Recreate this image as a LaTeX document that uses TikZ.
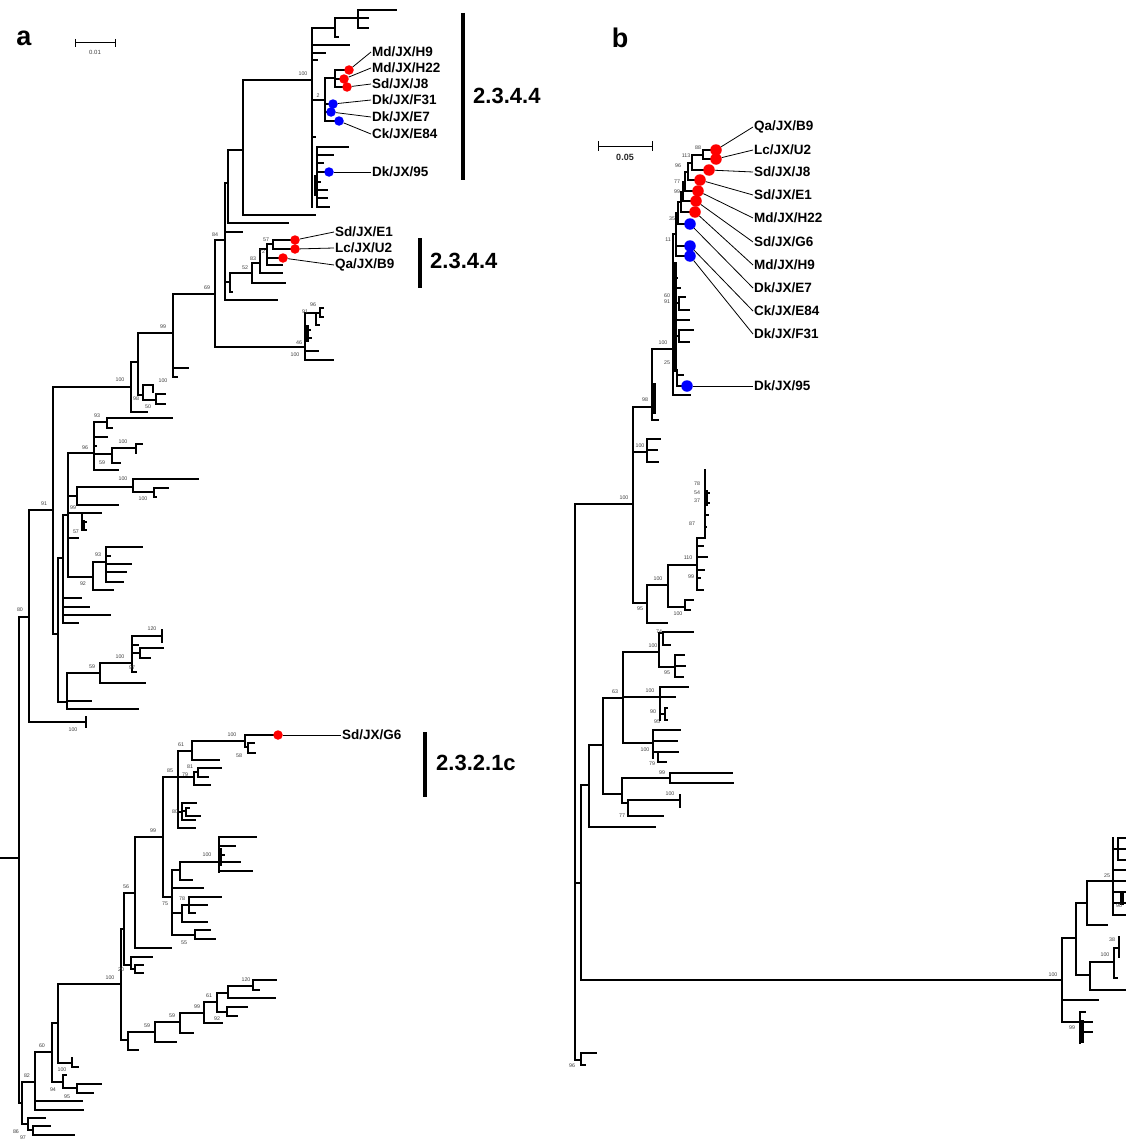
\documentclass[tikz,border=0pt]{standalone}
\usepackage{fontspec}
\setmainfont{Liberation Sans}
\setsansfont{Liberation Sans}
\newcount\bscnt
\newcommand\HB[3]{\draw[br] (#1,#2) -- (#3,#2);}
\newcommand\VB[3]{\draw[br] (#1,#2) -- (#1,#3);}
\newcommand\BS[3]{\global\advance\bscnt by 1\relax\node[bsl] (bs\the\bscnt) at (#1,#2) {#3};}
\begin{document}
\begin{tikzpicture}[x=1pt,y=-1pt,
  br/.style={line width=1.7pt,line cap=rect},
  bsl/.style={font=\fontsize{5.3}{5.3}\selectfont\sffamily,inner sep=0pt,text=black!75},
  lab/.style={font=\fontsize{13.5}{14}\selectfont\sffamily\bfseries,inner sep=1pt,anchor=west},
  clade/.style={font=\fontsize{22}{24}\selectfont\sffamily\bfseries,inner sep=0pt,anchor=west},
  panel/.style={font=\fontsize{27}{28}\selectfont\sffamily\bfseries,inner sep=0pt},
  cbar/.style={line width=4pt},
  lead/.style={line width=0.8pt},
  rdota/.style={circle,fill=red,inner sep=0pt,minimum size=9.5pt},
  bdota/.style={circle,fill=blue,inner sep=0pt,minimum size=9.5pt},
  rdotb/.style={circle,fill=red,inner sep=0pt,minimum size=11.5pt},
  bdotb/.style={circle,fill=blue,inner sep=0pt,minimum size=11.5pt},
  sbar/.style={line width=1pt}]
\useasboundingbox (0,0) rectangle (1126,1140);
\clip (0,0) rectangle (1126,1140);
\fill[white] (0,0) rectangle (1126,1140);

% ================= panel a =================
\node[panel] (pa) at (24,38) {a};
\coordinate (sa1) at (75,43); \coordinate (sa2) at (115,43);
\draw[sbar] (sa1) -- (sa2); \draw[sbar] (75,39) -- (75,47); \draw[sbar] (115,39) -- (115,47);
\node[bsl,font=\fontsize{6}{6}\selectfont\sffamily] (sal) at (95,52) {0.01};

\begin{scope}[br/.style={line width=1.8pt,line cap=rect}]
% root
\HB{0}{858}{19}
\VB{19}{617}{1103}
\HB{19}{617}{29} \BS{20}{610}{80}
\VB{29}{510}{722}
\HB{29}{722}{86} \VB{86}{717}{727} \BS{73}{730}{100}
\HB{29}{510}{53} \BS{44}{504}{91}
\VB{53}{387}{634}
\HB{53}{387}{131} \BS{120}{380}{100}
\VB{131}{362}{412}
\HB{131}{412}{147}
\HB{131}{362}{138}
\VB{138}{333}{395}
\HB{138}{395}{143}
\VB{143}{385}{400}
\HB{143}{385}{153} \VB{153}{385}{392}
\HB{143}{400}{156} \VB{156}{394}{404} \HB{156}{394}{165} \HB{156}{404}{165}
\BS{136}{399}{98} \BS{148}{407}{50}
\HB{138}{333}{173} \BS{163}{327}{99}
\VB{173}{294}{377}
\HB{173}{368}{188} \HB{173}{377}{177} \BS{163}{381}{100}
\HB{173}{294}{215} \BS{207}{288}{69}
\VB{215}{240}{347}
\HB{215}{347}{305} \BS{299}{343}{46} \BS{295}{355}{100}
% small clade
\VB{305}{313}{360} \HB{305}{351}{318} \HB{305}{360}{333}
\HB{305}{313}{316} \VB{316}{313}{325} \HB{316}{325}{319}
\HB{316}{313}{320} \VB{320}{308}{317} \HB{320}{308}{323} \HB{320}{317}{323}
\draw[line width=3.2pt] (307,325) -- (307,342);
\HB{305}{330}{310} \HB{305}{338}{311}
\BS{313}{305}{96} \BS{305}{312}{91}
% 84 node
\HB{215}{240}{225} \BS{215}{235}{84}
\VB{225}{183}{300}
\HB{225}{300}{277}
\HB{225}{232}{242}
\HB{225}{183}{228}
\VB{228}{150}{223}
\HB{228}{223}{288}
\HB{228}{150}{243}
\VB{243}{80}{215}
\HB{243}{215}{315}
\HB{243}{80}{312} \BS{303}{74}{100}
\VB{312}{28}{207}
\HB{312}{28}{335} \VB{335}{18}{37} \HB{335}{37}{338}
\HB{335}{18}{358} \VB{358}{10}{28} \HB{358}{10}{396} \HB{358}{18}{368} \HB{358}{28}{368}
\HB{312}{45}{349} \HB{312}{53}{325} \HB{312}{60}{317}
\HB{312}{100}{325} \BS{318}{96}{2}
\VB{325}{78}{121}
\HB{325}{78}{335} \VB{335}{70}{87} \HB{335}{70}{345} \HB{335}{79}{339} \HB{335}{87}{343}
\HB{325}{104}{329} \HB{325}{112}{327} \HB{325}{121}{336}
\HB{312}{137}{315}
\VB{317}{147}{207}
\HB{317}{147}{348} \HB{317}{155}{333} \HB{317}{163}{323} \HB{317}{172}{326}
\HB{317}{182}{320} \HB{317}{190}{327} \HB{317}{198}{327} \HB{317}{207}{329}
\draw[line width=3.2pt] (316,175) -- (316,196);
% lower 2.3.4.4
\HB{225}{282}{230} \VB{230}{273}{292} \HB{230}{292}{232}
\HB{230}{273}{252} \BS{245}{268}{52}
\VB{252}{263}{283} \HB{252}{283}{285}
\HB{252}{263}{260} \BS{253}{259}{83}
\VB{260}{249}{273} \HB{260}{273}{282}
\HB{260}{249}{267} \BS{262}{252}{72}
\VB{267}{244}{265}
\HB{267}{258}{279} \HB{267}{265}{282}
\HB{267}{244}{273} \BS{266}{240}{57}
\VB{273}{240}{249} \HB{273}{240}{291} \HB{273}{249}{291}
% lower group of node 91
\HB{53}{634}{58} \VB{58}{558}{702}
\HB{58}{558}{63} \VB{63}{515}{623}
\HB{63}{515}{68} \VB{68}{453}{577}
\HB{68}{453}{94} \BS{85}{448}{96} \VB{94}{422}{470}
\HB{94}{422}{107} \BS{97}{416}{93} \VB{107}{418}{428} \HB{107}{418}{172} \HB{107}{428}{112}
\HB{94}{437}{107} \HB{94}{446}{96}
\HB{94}{454}{112} \VB{112}{448}{463} \HB{112}{448}{136} \BS{123}{442}{100}
\VB{136}{444}{453} \HB{136}{444}{142} \HB{112}{463}{120} \BS{102}{463}{59}
\HB{94}{470}{118}
\HB{68}{496}{77} \VB{77}{487}{505} \HB{77}{487}{133} \BS{123}{479}{100}
\VB{133}{479}{492} \HB{133}{479}{198} \HB{133}{492}{154}
\VB{154}{488}{497} \HB{154}{488}{168} \HB{154}{497}{156} \BS{143}{499}{100}
\HB{77}{505}{118}
\HB{68}{513}{82} \BS{73}{508}{99} \VB{82}{513}{530} \HB{82}{513}{101}
\draw[line width=2.8pt] (84,520) -- (84,530);
\HB{82}{522}{86} \HB{82}{530}{86}
\HB{68}{538}{78} \BS{76}{532}{57}
\HB{68}{577}{93} \BS{83}{584}{92} \VB{93}{562}{590} \HB{93}{590}{113}
\HB{93}{562}{106} \BS{98}{555}{93} \VB{106}{547}{582}
\HB{106}{547}{142} \HB{106}{556}{110} \HB{106}{564}{131} \HB{106}{572}{126} \HB{106}{582}{123}
\HB{63}{598}{81} \HB{63}{607}{89} \HB{63}{615}{110} \HB{63}{623}{78}
\HB{58}{702}{67} \VB{67}{673}{709}
\HB{67}{673}{100} \BS{92}{667}{59} \VB{100}{663}{683} \HB{100}{683}{145}
\HB{100}{663}{132} \BS{120}{657}{100}
\VB{132}{636}{672} \HB{132}{636}{162} \VB{162}{630}{642} \BS{152}{629}{120}
\HB{132}{645}{138} \HB{132}{653}{140} \VB{140}{648}{658} \HB{140}{648}{163} \HB{140}{658}{150}
\HB{132}{672}{136} \BS{132}{668}{97}
\HB{67}{701}{91} \HB{67}{709}{138}
% bottom part
\HB{19}{1103}{22} \VB{22}{1082}{1124}
\HB{22}{1082}{35} \BS{27}{1076}{82}
\VB{35}{1052}{1110} \HB{35}{1101}{82} \HB{35}{1110}{83}
\HB{35}{1052}{52} \BS{42}{1046}{60}
\VB{52}{1023}{1082}
\HB{52}{1082}{63} \BS{62}{1070}{100}
\VB{63}{1075}{1088} \HB{63}{1075}{66} \HB{63}{1088}{77}
\VB{77}{1084}{1093} \HB{77}{1084}{101} \HB{77}{1093}{93} \BS{53}{1090}{94} \BS{67}{1097}{95}
\HB{52}{1023}{58} \VB{58}{984}{1063}
\HB{58}{1063}{72} \VB{72}{1058}{1067} \HB{72}{1067}{78}
\HB{58}{984}{121} \BS{110}{978}{100}
\VB{121}{929}{1040}
\HB{121}{1040}{128} \VB{128}{1032}{1050} \HB{128}{1050}{138}
\HB{128}{1032}{155} \BS{147}{1026}{59}
\VB{155}{1022}{1042} \HB{155}{1042}{176}
\HB{155}{1022}{180} \BS{172}{1016}{59}
\VB{180}{1013}{1033} \HB{180}{1033}{193}
\HB{180}{1013}{204} \BS{197}{1007}{99}
\VB{204}{1002}{1023} \HB{204}{1023}{222} \BS{217}{1019}{92}
\HB{204}{1002}{217} \BS{209}{996}{61}
\VB{217}{993}{1012}
\HB{217}{1012}{227} \VB{227}{1007}{1016} \HB{227}{1007}{247} \HB{227}{1016}{237}
\HB{217}{993}{228} \VB{228}{986}{998} \HB{228}{998}{275}
\HB{228}{986}{253} \BS{246}{980}{120}
\VB{253}{980}{990} \HB{253}{980}{276} \HB{253}{990}{259}
\HB{22}{1124}{28} \VB{28}{1118}{1130} \HB{28}{1118}{45} \HB{28}{1130}{33}
\VB{33}{1126}{1135} \HB{33}{1126}{50} \HB{33}{1135}{74}
\BS{16}{1132}{86} \BS{23}{1138}{97}
% 2.3.2.1c clade
\HB{121}{929}{124} \VB{124}{893}{965}
\HB{124}{965}{131} \VB{131}{957}{969} \HB{131}{957}{152} \HB{131}{969}{135}
\VB{135}{965}{973} \HB{135}{965}{143} \HB{135}{973}{143} \BS{121}{970}{20}
\HB{124}{893}{135} \BS{126}{887}{56}
\VB{135}{837}{948} \HB{135}{948}{171}
\HB{135}{837}{163} \BS{153}{831}{99}
\VB{163}{777}{897}
\HB{163}{777}{178} \BS{170}{771}{85}
\VB{178}{751}{828}
\HB{178}{751}{192} \BS{181}{745}{61}
\VB{192}{741}{760} \HB{192}{760}{219}
\HB{192}{741}{245} \BS{232}{735}{100}
\VB{245}{735}{747} \HB{245}{735}{273}
\HB{245}{747}{248} \VB{248}{743}{753} \HB{248}{743}{254} \HB{248}{753}{255} \BS{239}{756}{58}
\HB{178}{777}{194} \VB{194}{772}{785} \BS{190}{767}{81} \BS{185}{775}{79}
\HB{194}{772}{198} \VB{198}{768}{777} \HB{198}{768}{221} \HB{198}{777}{208} \HB{194}{785}{210}
\HB{178}{812}{182} \VB{182}{803}{820} \HB{182}{803}{196}
\HB{182}{811}{186} \VB{186}{808}{816} \HB{186}{808}{189} \HB{186}{816}{200}
\HB{182}{820}{195} \HB{178}{828}{195} \BS{175}{812}{80}
\HB{163}{897}{172} \BS{165}{904}{75}
\VB{172}{870}{935}
\HB{172}{870}{180} \VB{180}{862}{880} \HB{180}{880}{192}
\HB{180}{862}{219} \BS{207}{855}{100}
\VB{219}{837}{872} \HB{219}{837}{256} \HB{219}{846}{235} \HB{219}{855}{224} \HB{219}{862}{240} \HB{219}{871}{252}
\draw[line width=2.8pt] (221,848) -- (221,866);
\HB{172}{888}{203}
\HB{172}{913}{182} \VB{182}{905}{922} \HB{182}{922}{207}
\HB{182}{905}{189} \VB{189}{897}{913} \HB{189}{897}{221} \HB{189}{905}{207} \HB{189}{913}{195} \BS{182}{899}{78}
\HB{172}{935}{195} \VB{195}{930}{939} \HB{195}{930}{210} \HB{195}{939}{215} \BS{184}{943}{55}
\end{scope}

% dots and labels, panel a
\node[rdota] (a1) at (349,70) {};
\node[rdota] (a2) at (344,79) {};
\node[rdota] (a3) at (347,87) {};
\node[bdota] (a4) at (333,104) {};
\node[bdota] (a5) at (331,112) {};
\node[bdota] (a6) at (339,121) {};
\node[bdota] (a7) at (329,172) {};
\node[lab] (la1) at (371,52) {Md/JX/H9};
\node[lab] (la2) at (371,68) {Md/JX/H22};
\node[lab] (la3) at (371,84) {Sd/JX/J8};
\node[lab] (la4) at (371,100) {Dk/JX/F31};
\node[lab] (la5) at (371,117) {Dk/JX/E7};
\node[lab] (la6) at (371,134) {Ck/JX/E84};
\node[lab] (la7) at (371,172) {Dk/JX/95};
\foreach \i in {1,...,7} {\draw[lead] (a\i) -- (la\i.west);}

\node[rdota] (a8) at (295,240) {};
\node[rdota] (a9) at (295,249) {};
\node[rdota] (a10) at (283,258) {};
\node[lab] (la8) at (334,232) {Sd/JX/E1};
\node[lab] (la9) at (334,248) {Lc/JX/U2};
\node[lab] (la10) at (334,265) {Qa/JX/B9};
\foreach \i in {8,9,10} {\draw[lead] (a\i) -- (la\i.west);}

\node[rdota] (a11) at (278,735) {};
\node[lab] (la11) at (341,735) {Sd/JX/G6};
\draw[lead] (a11) -- (la11.west);

% clade bars
\coordinate (c1t) at (463,13); \coordinate (c1b) at (463,180);
\draw[cbar] (c1t) -- (c1b);
\node[clade] (c1) at (473,96) {2.3.4.4};
\coordinate (c2t) at (420,238); \coordinate (c2b) at (420,288);
\draw[cbar] (c2t) -- (c2b);
\node[clade] (c2) at (430,261) {2.3.4.4};
\coordinate (c3t) at (425,732); \coordinate (c3b) at (425,797);
\draw[cbar] (c3t) -- (c3b);
\node[clade] (c3) at (436,763) {2.3.2.1c};

% ================= panel b =================
\node[panel] (pb) at (620,38) {b};
\coordinate (sb1) at (598,146); \coordinate (sb2) at (652,146);
\draw[sbar] (sb1) -- (sb2); \draw[sbar] (598,141) -- (598,151); \draw[sbar] (652,141) -- (652,151);
\node[bsl,font=\fontsize{9}{9}\selectfont\sffamily\bfseries,text=black!85] (sbl) at (625,157) {0.05};

\begin{scope}[br/.style={line width=2.4pt,line cap=rect}]
\VB{575}{504}{1060}
\HB{575}{504}{633} \BS{624}{498}{100}
\VB{633}{407}{603}
\HB{633}{407}{652} \BS{645}{400}{98}
\VB{652}{349}{420} \HB{652}{420}{658}
\draw[line width=3.8pt] (654,383) -- (654,414);
\HB{652}{349}{673} \BS{663}{343}{100}
\VB{673}{234}{395}
\draw[line width=3.8pt] (675,262) -- (675,372);
\HB{673}{395}{690}
\VB{677}{370}{386} \HB{677}{375}{683} \HB{677}{386}{683} \BS{667}{363}{25}
\HB{673}{278}{677} \HB{673}{288}{680}
\HB{673}{303}{679} \VB{679}{297}{310} \HB{679}{297}{685} \HB{679}{310}{689}
\BS{667}{296}{60} \BS{667}{302}{91}
\HB{673}{320}{689}
\HB{673}{336}{679} \VB{679}{330}{342} \HB{679}{330}{693} \HB{679}{342}{689}
\HB{673}{234}{676}
\VB{676}{213}{256} \HB{676}{246}{685} \HB{676}{256}{685} \BS{668}{240}{11}
\HB{676}{213}{678} \VB{678}{202}{224} \HB{678}{224}{685} \BS{672}{219}{35}
\HB{678}{202}{681} \VB{681}{192}{212} \HB{681}{212}{690}
\HB{681}{192}{683} \VB{683}{182}{201} \HB{683}{201}{691} \BS{677}{192}{99}
\HB{683}{182}{685} \VB{685}{172}{191} \HB{685}{191}{693} \BS{677}{182}{77}
\HB{685}{172}{688} \VB{688}{163}{180} \HB{688}{180}{695} \BS{678}{166}{96}
\HB{688}{163}{692} \VB{692}{155}{170} \HB{692}{170}{704} \BS{686}{156}{113}
\HB{692}{155}{703} \VB{703}{150}{159} \HB{703}{150}{711} \HB{703}{159}{711} \BS{698}{148}{88}
% small clade
\HB{633}{452}{647} \BS{640}{446}{100}
\VB{647}{439}{462} \HB{647}{439}{660} \HB{647}{450}{657} \HB{647}{462}{658}
% ladder clade
\HB{633}{603}{647} \BS{640}{609}{95}
\VB{647}{585}{623} \HB{647}{623}{667}
\HB{647}{585}{668} \BS{658}{579}{100}
\VB{668}{565}{607}
\HB{668}{607}{685} \BS{678}{614}{100}
\VB{685}{600}{610} \HB{685}{600}{693} \HB{685}{610}{690}
\HB{668}{565}{697} \BS{688}{558}{110}
\VB{697}{538}{590}
\HB{697}{546}{703} \HB{697}{557}{707} \HB{697}{570}{704} \HB{697}{578}{700} \HB{697}{590}{703} \BS{691}{577}{99}
\HB{697}{538}{705} \VB{705}{470}{538}
\draw[line width=3.5pt] (706,490) -- (706,506);
\HB{705}{493}{709} \HB{705}{503}{709} \HB{705}{515}{708} \HB{705}{527}{706}
\BS{697}{484}{78} \BS{697}{493}{54} \BS{697}{501}{37} \BS{692}{524}{87}
% lower b
\HB{575}{883}{581} \VB{581}{785}{980}
\HB{581}{980}{1062} \BS{1053}{975}{100}
\HB{581}{785}{589} \VB{589}{745}{827} \HB{589}{827}{655}
\HB{589}{745}{603} \VB{603}{698}{794}
\HB{603}{698}{623} \BS{615}{692}{63}
\VB{623}{652}{743}
\HB{623}{652}{659} \BS{653}{646}{100}
\VB{659}{633}{667}
\HB{659}{633}{663} \VB{663}{632}{645} \HB{663}{632}{693} \HB{663}{645}{670} \BS{659}{632}{74}
\HB{659}{667}{675} \VB{675}{655}{677} \HB{675}{655}{684} \HB{675}{666}{685} \HB{675}{677}{683} \BS{667}{673}{95}
\HB{623}{697}{660} \BS{650}{691}{100}
\VB{660}{687}{720} \HB{660}{687}{688} \HB{660}{697}{675} \HB{660}{714}{665}
\VB{665}{708}{720} \HB{665}{708}{667} \HB{665}{720}{667}
\BS{653}{712}{90} \BS{657}{722}{95}
\HB{623}{743}{653} \BS{645}{750}{100}
\VB{653}{730}{758} \HB{653}{730}{680} \HB{653}{741}{677} \HB{653}{752}{658}
\VB{658}{752}{762} \HB{658}{752}{678} \HB{658}{762}{666} \BS{652}{764}{79}
\HB{603}{794}{622} \VB{622}{778}{803}
\HB{622}{778}{670} \BS{662}{773}{99}
\VB{670}{773}{783} \HB{670}{773}{732} \HB{670}{783}{733}
\HB{622}{803}{628} \VB{628}{800}{816} \HB{628}{800}{680} \VB{680}{795}{807} \BS{670}{794}{100}
\HB{628}{816}{663} \BS{622}{816}{77}
\HB{575}{1060}{581} \VB{581}{1053}{1065} \HB{581}{1053}{596} \HB{581}{1065}{585} \BS{572}{1066}{96}
% right clade
\VB{1062}{938}{1022}
\HB{1062}{938}{1076} \VB{1076}{903}{975}
\HB{1076}{903}{1087} \VB{1087}{881}{925} \HB{1087}{925}{1107}
\HB{1087}{881}{1113} \BS{1107}{876}{25}
\VB{1113}{838}{915}
\HB{1113}{849}{1118} \VB{1118}{838}{860} \HB{1118}{838}{1127} \HB{1118}{849}{1127} \HB{1118}{860}{1127}
\HB{1113}{870}{1127} \HB{1113}{881}{1127} \HB{1113}{892}{1127} \HB{1113}{903}{1127} \HB{1113}{915}{1127}
\draw[line width=3.5pt] (1122,892) -- (1122,905); \BS{1119}{906}{90}
\HB{1076}{975}{1090} \VB{1090}{962}{990} \HB{1090}{990}{1125}
\HB{1090}{962}{1114} \BS{1105}{955}{100}
\VB{1114}{948}{978} \HB{1114}{978}{1117} \HB{1114}{948}{1119} \VB{1119}{937}{957} \BS{1112}{940}{38}
\HB{1062}{1000}{1098}
\HB{1062}{1022}{1080} \VB{1080}{1012}{1043}
\HB{1080}{1012}{1085} \HB{1080}{1022}{1092} \HB{1080}{1032}{1092}
\draw[line width=3.8pt] (1082,1020) -- (1082,1043); \BS{1072}{1028}{99}
\end{scope}

% dots and labels, panel b
\node[rdotb] (b1) at (716,150) {};
\node[rdotb] (b2) at (716,159) {};
\node[rdotb] (b3) at (709,170) {};
\node[rdotb] (b4) at (700,180) {};
\node[rdotb] (b5) at (698,191) {};
\node[rdotb] (b6) at (696,201) {};
\node[rdotb] (b7) at (695,212) {};
\node[bdotb] (b8) at (690,224) {};
\node[bdotb] (b9) at (690,246) {};
\node[bdotb] (b10) at (690,256) {};
\node[bdotb] (b11) at (687,386) {};
\node[lab] (lb1) at (753,127) {Qa/JX/B9};
\node[lab] (lb2) at (753,150) {Lc/JX/U2};
\node[lab] (lb3) at (753,172) {Sd/JX/J8};
\node[lab] (lb4) at (753,195) {Sd/JX/E1};
\node[lab] (lb5) at (753,218) {Md/JX/H22};
\node[lab] (lb6) at (753,242) {Sd/JX/G6};
\node[lab] (lb7) at (753,265) {Md/JX/H9};
\node[lab] (lb8) at (753,288) {Dk/JX/E7};
\node[lab] (lb9) at (753,311) {Ck/JX/E84};
\node[lab] (lb10) at (753,334) {Dk/JX/F31};
\node[lab] (lb11) at (753,386) {Dk/JX/95};
\foreach \i in {1,...,11} {\draw[lead] (b\i) -- (lb\i.west);}
\end{tikzpicture}
\end{document}
